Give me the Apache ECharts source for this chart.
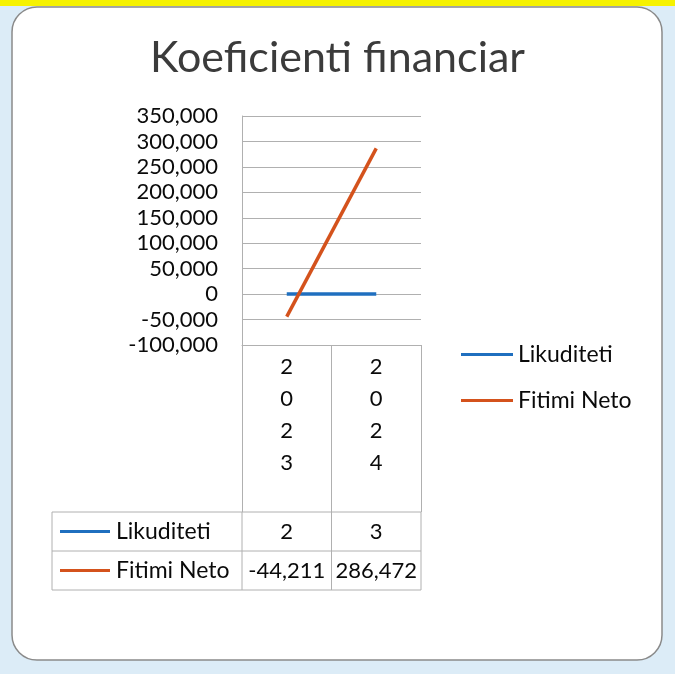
<!DOCTYPE html>
<html>
<head>
	<meta charset="UTF-8">
	<title></title>
	<style>
		html, body { margin: 0; padding: 0; }
		#chart { width: 675px; height: 674px; }
	</style>
</head>
<body>
	<div id="chart"></div>
</body>
<script src="https://cdn.jsdelivr.net/npm/echarts@6/dist/echarts.min.js"></script>
<script>
var years = ['2023', '2024'];
var likuditeti = [2, 3];
var fitimiNeto = [-44211, 286472];
var seriesNames = ['Likuditeti', 'Fitimi Neto'];
var seriesColors = ['#1f6fbf', '#d4521c'];

var font = 'Lato, "Open Sans", sans-serif';
var gridLine = '#b0b0b0';
var txt = '#0a0a0a';

var fmt = function (v) {
    return Number(v).toLocaleString('en-US');
};

var chart = echarts.init(document.getElementById('chart'));

var option = {
    backgroundColor: '#dcecf7',
    animation: false,
    title: {
        text: 'Koeficienti financiar',
        left: 'center',
        top: 32,
        textStyle: {
            fontFamily: font,
            fontSize: 43,
            fontWeight: 'normal',
            color: '#3b3b3b'
        }
    },
    legend: {
        orient: 'vertical',
        left: 456,
        top: 338,
        icon: 'rect',
        itemWidth: 52,
        itemHeight: 3,
        itemGap: 23,
        data: seriesNames,
        textStyle: { fontFamily: font, fontSize: 23, color: txt }
    },
    grid: { left: 242, top: 116, width: 179, height: 229 },
    xAxis: {
        type: 'category',
        data: years,
        axisLine: { show: true, onZero: false, lineStyle: { color: gridLine, width: 1 } },
        axisTick: { show: true, length: 167, lineStyle: { color: gridLine } },
        axisLabel: {
            margin: 6,
            fontFamily: font,
            fontSize: 22,
            lineHeight: 32,
            color: txt,
            formatter: function (v) { return v.split('').join('\n'); }
        }
    },
    yAxis: {
        type: 'value',
        min: -100000,
        max: 350000,
        interval: 50000,
        axisLine: { show: true, lineStyle: { color: gridLine } },
        axisTick: { show: false },
        splitLine: { lineStyle: { color: gridLine } },
        axisLabel: {
            margin: 24,
            fontFamily: font,
            fontSize: 22,
            color: txt,
            formatter: fmt
        }
    },
    series: [{
        name: seriesNames[0],
        type: 'line',
        data: likuditeti,
        symbol: 'none',
        z: 3,
        lineStyle: { width: 3.5, color: seriesColors[0] },
        itemStyle: { color: seriesColors[0] }
    }, {
        name: seriesNames[1],
        type: 'line',
        data: fitimiNeto,
        symbol: 'none',
        z: 4,
        lineStyle: { width: 3.5, color: seriesColors[1] },
        itemStyle: { color: seriesColors[1] }
    }]
};

chart.setOption(option);

// tabela e te dhenave poshte boshtit
var tableLeft = 52, tableTop = 512, rowH = 39;
var colX = years.map(function (y, i) {
    return chart.convertToPixel({ xAxisIndex: 0 }, i);
});
var colW = colX[1] - colX[0];
var plotLeft = colX[0] - colW / 2;
var plotRight = colX[1] + colW / 2;
var rows = [likuditeti, fitimiNeto];

var elems = [{
    type: 'rect', z: -100,
    shape: { x: 0, y: 0, width: 675, height: 6 },
    style: { fill: '#f6f200' }
}, {
    type: 'rect', z: -90,
    shape: { x: 12, y: 7, width: 650, height: 653, r: 25 },
    style: { fill: '#ffffff', stroke: '#8a8a8a', lineWidth: 1.5 }
}, {
    type: 'rect', z: 1,
    shape: { x: tableLeft, y: tableTop, width: plotRight - tableLeft, height: rowH * 2 },
    style: { fill: 'none', stroke: gridLine, lineWidth: 1 }
}, {
    type: 'line', z: 1,
    shape: { x1: tableLeft, y1: tableTop + rowH, x2: plotRight, y2: tableTop + rowH },
    style: { stroke: gridLine, lineWidth: 1 }
}];

[plotLeft, colX[0] + colW / 2].forEach(function (x) {
    elems.push({
        type: 'line', z: 1,
        shape: { x1: x, y1: tableTop, x2: x, y2: tableTop + rowH * 2 },
        style: { stroke: gridLine, lineWidth: 1 }
    });
});

rows.forEach(function (vals, r) {
    var cy = tableTop + rowH * r + rowH / 2;
    elems.push({
        type: 'line', z: 2,
        shape: { x1: tableLeft + 8, y1: cy, x2: tableLeft + 58, y2: cy },
        style: { stroke: seriesColors[r], lineWidth: 3 }
    });
    elems.push({
        type: 'text', z: 2,
        x: tableLeft + 64, y: cy,
        style: {
            text: seriesNames[r], fontFamily: font, fontSize: 23, fill: txt,
            textVerticalAlign: 'middle', textAlign: 'left'
        }
    });
    vals.forEach(function (v, c) {
        elems.push({
            type: 'text', z: 2,
            x: colX[c], y: cy,
            style: {
                text: fmt(v), fontFamily: font, fontSize: 22, fill: txt,
                textVerticalAlign: 'middle', textAlign: 'center'
            }
        });
    });
});

chart.setOption({ graphic: { elements: elems } });
</script>
</html>
